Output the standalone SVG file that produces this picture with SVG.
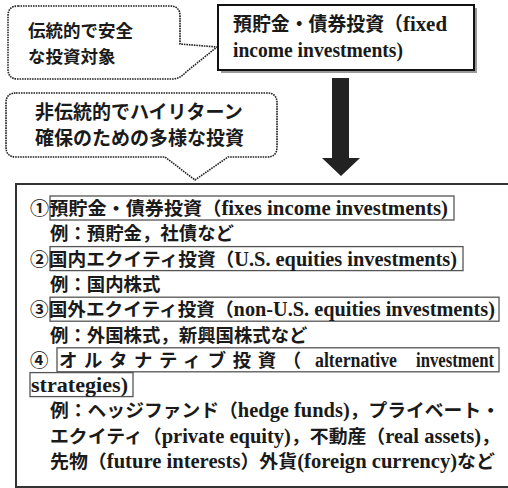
<svg xmlns="http://www.w3.org/2000/svg" width="508" height="488" viewBox="0 0 508 488">
<style>
text { font-family: "Noto Sans CJK JP", sans-serif; font-weight: bold; font-size: 18.4px; fill: #1a1a1a; }
.e { font-family: "Liberation Serif", "Noto Sans CJK JP", serif; font-size: 20px; }
.dot { fill: #fff; stroke: #222; stroke-width: 1.6; stroke-dasharray: 1.6 0.9; }
.item { fill: none; stroke: #555; stroke-width: 1.3; }
</style>
<rect width="508" height="488" fill="#fff"/>
<g id="callout-traditional">
<path class="dot" d="M18,6 H170 Q180,6 180,16 V44 L217,47 L186,72 Q180,79 172,79 H18 Q8,79 8,69 V16 Q8,6 18,6 Z"/>
<text x="28" y="36.5" style="font-size:17.5px">伝統的で安全</text>
<text x="28" y="62.5" style="font-size:17.5px">な投資対象</text>
</g>
<g id="fixed-income">
<rect x="221" y="8" width="256" height="65" fill="#999"/>
<rect x="218" y="5" width="256" height="65" fill="#fff" stroke="#111" stroke-width="2"/>
<text x="233" y="31" style="font-size:19px" textLength="214" lengthAdjust="spacingAndGlyphs">預貯金・債券投資（<tspan class="e" style="font-size:21px">fixed</tspan></text>
<text x="233" y="57" class="e" style="font-size:21px" textLength="170" lengthAdjust="spacingAndGlyphs">income investments)</text>
</g>
<g id="callout-alternative">
<path class="dot" d="M16,93 H267 Q277,93 277,103 V147 Q277,157 267,157 H228 L195,180 L165,157 H16 Q6,157 6,147 V103 Q6,93 16,93 Z"/>
<text x="35" y="118.5" style="font-size:19px">非伝統的でハイリターン</text>
<text x="35" y="145" style="font-size:19px">確保のための多様な投資</text>
</g>
<g id="connectors">
<polygon points="332,78 349,78 349,158 360,158 341,176 322,158 332,158" fill="#222"/>
</g>
<g id="investments">
<rect x="16" y="184" width="494" height="303" fill="#fff" stroke="#333" stroke-width="2"/>
<rect class="item" x="50" y="196" width="404" height="24"/>
<rect class="item" x="50" y="246.6" width="413" height="24"/>
<rect class="item" x="50" y="297.2" width="449" height="24"/>
<rect class="item" x="57" y="347.8" width="442" height="24"/>
<rect class="item" x="30" y="372.6" width="103" height="24"/>
<text x="30" y="215" textLength="418" lengthAdjust="spacingAndGlyphs">①預貯金・債券投資（<tspan class="e">fixes income investments)</tspan></text>
<text x="50" y="240.3">例：預貯金，社債など</text>
<text x="30" y="265.6" textLength="427" lengthAdjust="spacingAndGlyphs">②国内エクイティ投資（<tspan class="e">U.S. equities investments)</tspan></text>
<text x="50" y="290.9">例：国内株式</text>
<text x="30" y="316.2" textLength="465" lengthAdjust="spacingAndGlyphs">③国外エクイティ投資（<tspan class="e">non-U.S. equities investments)</tspan></text>
<text x="50" y="341.5">例：外国株式，新興国株式など</text>
<text x="30" y="366.8">④</text>
<text x="59" y="366.8" style="letter-spacing:6.6px">オルタナティブ投資（</text>
<text x="315" y="366.8" class="e" textLength="82" lengthAdjust="spacingAndGlyphs">alternative</text>
<text x="416" y="366.8" class="e" textLength="78" lengthAdjust="spacingAndGlyphs">investment</text>
<text x="31" y="392.1" class="e" textLength="97" lengthAdjust="spacingAndGlyphs">strategies)</text>
<text x="50" y="417.4" textLength="450" lengthAdjust="spacingAndGlyphs">例：ヘッジファンド（<tspan class="e">hedge funds)</tspan>，プライベート・</text>
<text x="50" y="442.7" textLength="450" lengthAdjust="spacingAndGlyphs">エクイティ（<tspan class="e">private equity)</tspan>，不動産（<tspan class="e">real assets)</tspan>，</text>
<text x="50" y="468" textLength="445" lengthAdjust="spacingAndGlyphs">先物（<tspan class="e">future interests</tspan>）外貨<tspan class="e">(foreign currency)</tspan>など</text>
</g>
</svg>
